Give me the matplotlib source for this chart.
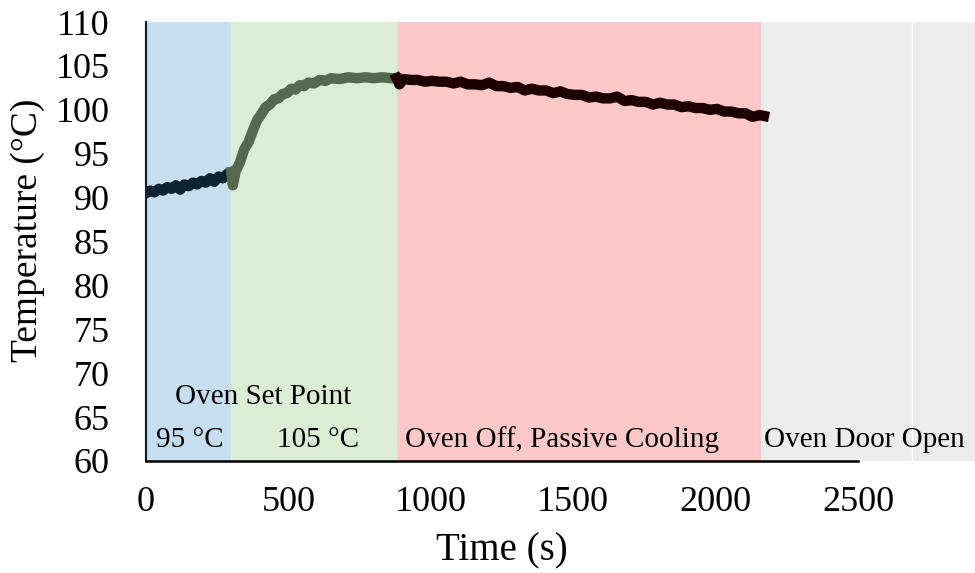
import matplotlib
matplotlib.use('Agg')
import matplotlib.pyplot as plt
import numpy as np

plt.rcParams['font.family'] = ['Liberation Serif', 'DejaVu Serif']

# oven phases (s)
phase_edges = [0, 300, 880, 2160, 2690, 2911]
phase_colors = ['#c6dff0', '#dbeed5', '#ffc8c8', '#ececec', '#ececec']

# temperature readings per phase
t_95 = [0, 15, 30, 45, 60, 75, 90, 105, 120, 135, 150, 165, 180, 195, 210, 225, 240, 255, 270, 285, 300]
T_95 = [90.5, 90.8, 90.6, 91.0, 90.8, 91.2, 91.0, 91.4, 90.9, 91.5, 91.3, 91.7, 91.5, 91.9, 91.7, 92.2,
        91.8, 92.4, 92.2, 92.7, 92.9]

t_105 = [300, 305, 315, 330, 345, 360, 375, 390, 405, 420, 435, 450, 465, 480, 495, 510, 525, 540, 555,
         570, 590, 610, 630, 650, 680, 710, 740, 770, 800, 830, 860, 880]
T_105 = [92.9, 91.4, 93.0, 94.0, 95.5, 96.3, 97.6, 98.8, 99.5, 100.3, 100.6, 101.2, 101.3, 101.8, 101.9,
         102.4, 102.3, 102.8, 102.7, 103.1, 103.0, 103.4, 103.3, 103.6, 103.5, 103.7, 103.6, 103.7, 103.6,
         103.7, 103.6, 103.6]

t_off = [880, 890, 905, 930, 955, 980, 1005, 1030, 1055, 1080, 1105, 1130, 1155, 1180, 1205, 1230, 1255,
         1280, 1305, 1330, 1355, 1380, 1405, 1430, 1455, 1480, 1505, 1530, 1555, 1580, 1605, 1630, 1655,
         1680, 1705, 1730, 1755, 1780, 1805, 1830, 1855, 1880, 1905, 1930, 1955, 1980, 2005, 2030, 2055,
         2080, 2105, 2130, 2155, 2170]
T_off = [103.6, 102.9, 103.5, 103.4, 103.4, 103.2, 103.3, 103.2, 103.2, 103.0, 103.2, 102.9, 102.9, 102.8,
         103.1, 102.7, 102.7, 102.5, 102.6, 102.2, 102.4, 102.2, 102.2, 101.9, 102.1, 101.8, 101.7, 101.7,
         101.4, 101.5, 101.3, 101.3, 101.5, 101.0, 101.1, 100.9, 100.9, 100.6, 100.8, 100.6, 100.6, 100.3,
         100.4, 100.2, 100.2, 100.0, 100.1, 99.8, 99.8, 99.6, 99.6, 99.2, 99.4, 99.3]

fig = plt.figure(figsize=(9.75, 5.73), dpi=100)
ax = fig.add_axes([0.1497, 0.1955, 0.8503, 0.7661])

for i in range(len(phase_colors)):
    ax.axvspan(phase_edges[i], phase_edges[i + 1], color=phase_colors[i], lw=0, zorder=0)
ax.axvline(phase_edges[4], color='white', lw=1, zorder=0.5)

ax.plot(t_95, T_95, color='#0b2333', lw=7.5, solid_joinstyle='round', zorder=3)
ax.plot(t_105, T_105, color='#56694f', lw=7.5, solid_joinstyle='round', zorder=3)
ax.plot(t_off, T_off, color='#1e0202', lw=7.5, solid_joinstyle='round', zorder=3)

ax.set_xlim(0, phase_edges[-1])
ax.set_ylim(60, 110)
ax.set_xticks(np.arange(0, 2501, 500))
ax.set_yticks(np.arange(60, 111, 5))
ax.tick_params(axis='both', length=0, labelsize=26)
ax.tick_params(axis='y', pad=26)
ax.tick_params(axis='x', pad=18)

ax.spines['top'].set_visible(False)
ax.spines['right'].set_visible(False)
ax.spines['bottom'].set_bounds(0, 2500)
ax.spines['bottom'].set_linewidth(1.8)
ax.spines['left'].set_linewidth(1.5)
ax.spines['left'].set_color('#0d1e2c')

ax.set_xlabel('Time (s)', fontsize=28)
ax.xaxis.set_label_coords(0.4295, -0.163)
ax.set_ylabel('Temperature (°C)', fontsize=27)
ax.yaxis.set_label_coords(-0.122, 0.526)

ax.text(410, 67.3, 'Oven Set Point', fontsize=21, ha='center', va='center')
ax.text(155, 62.4, '95 °C', fontsize=21, ha='center', va='center')
ax.text(603, 62.4, '105 °C', fontsize=21, ha='center', va='center')
ax.text(910, 62.4, 'Oven Off, Passive Cooling', fontsize=21, ha='left', va='center')
ax.text(2170, 62.4, 'Oven Door Open', fontsize=21, ha='left', va='center')

fig.savefig('out.png', dpi=100)
